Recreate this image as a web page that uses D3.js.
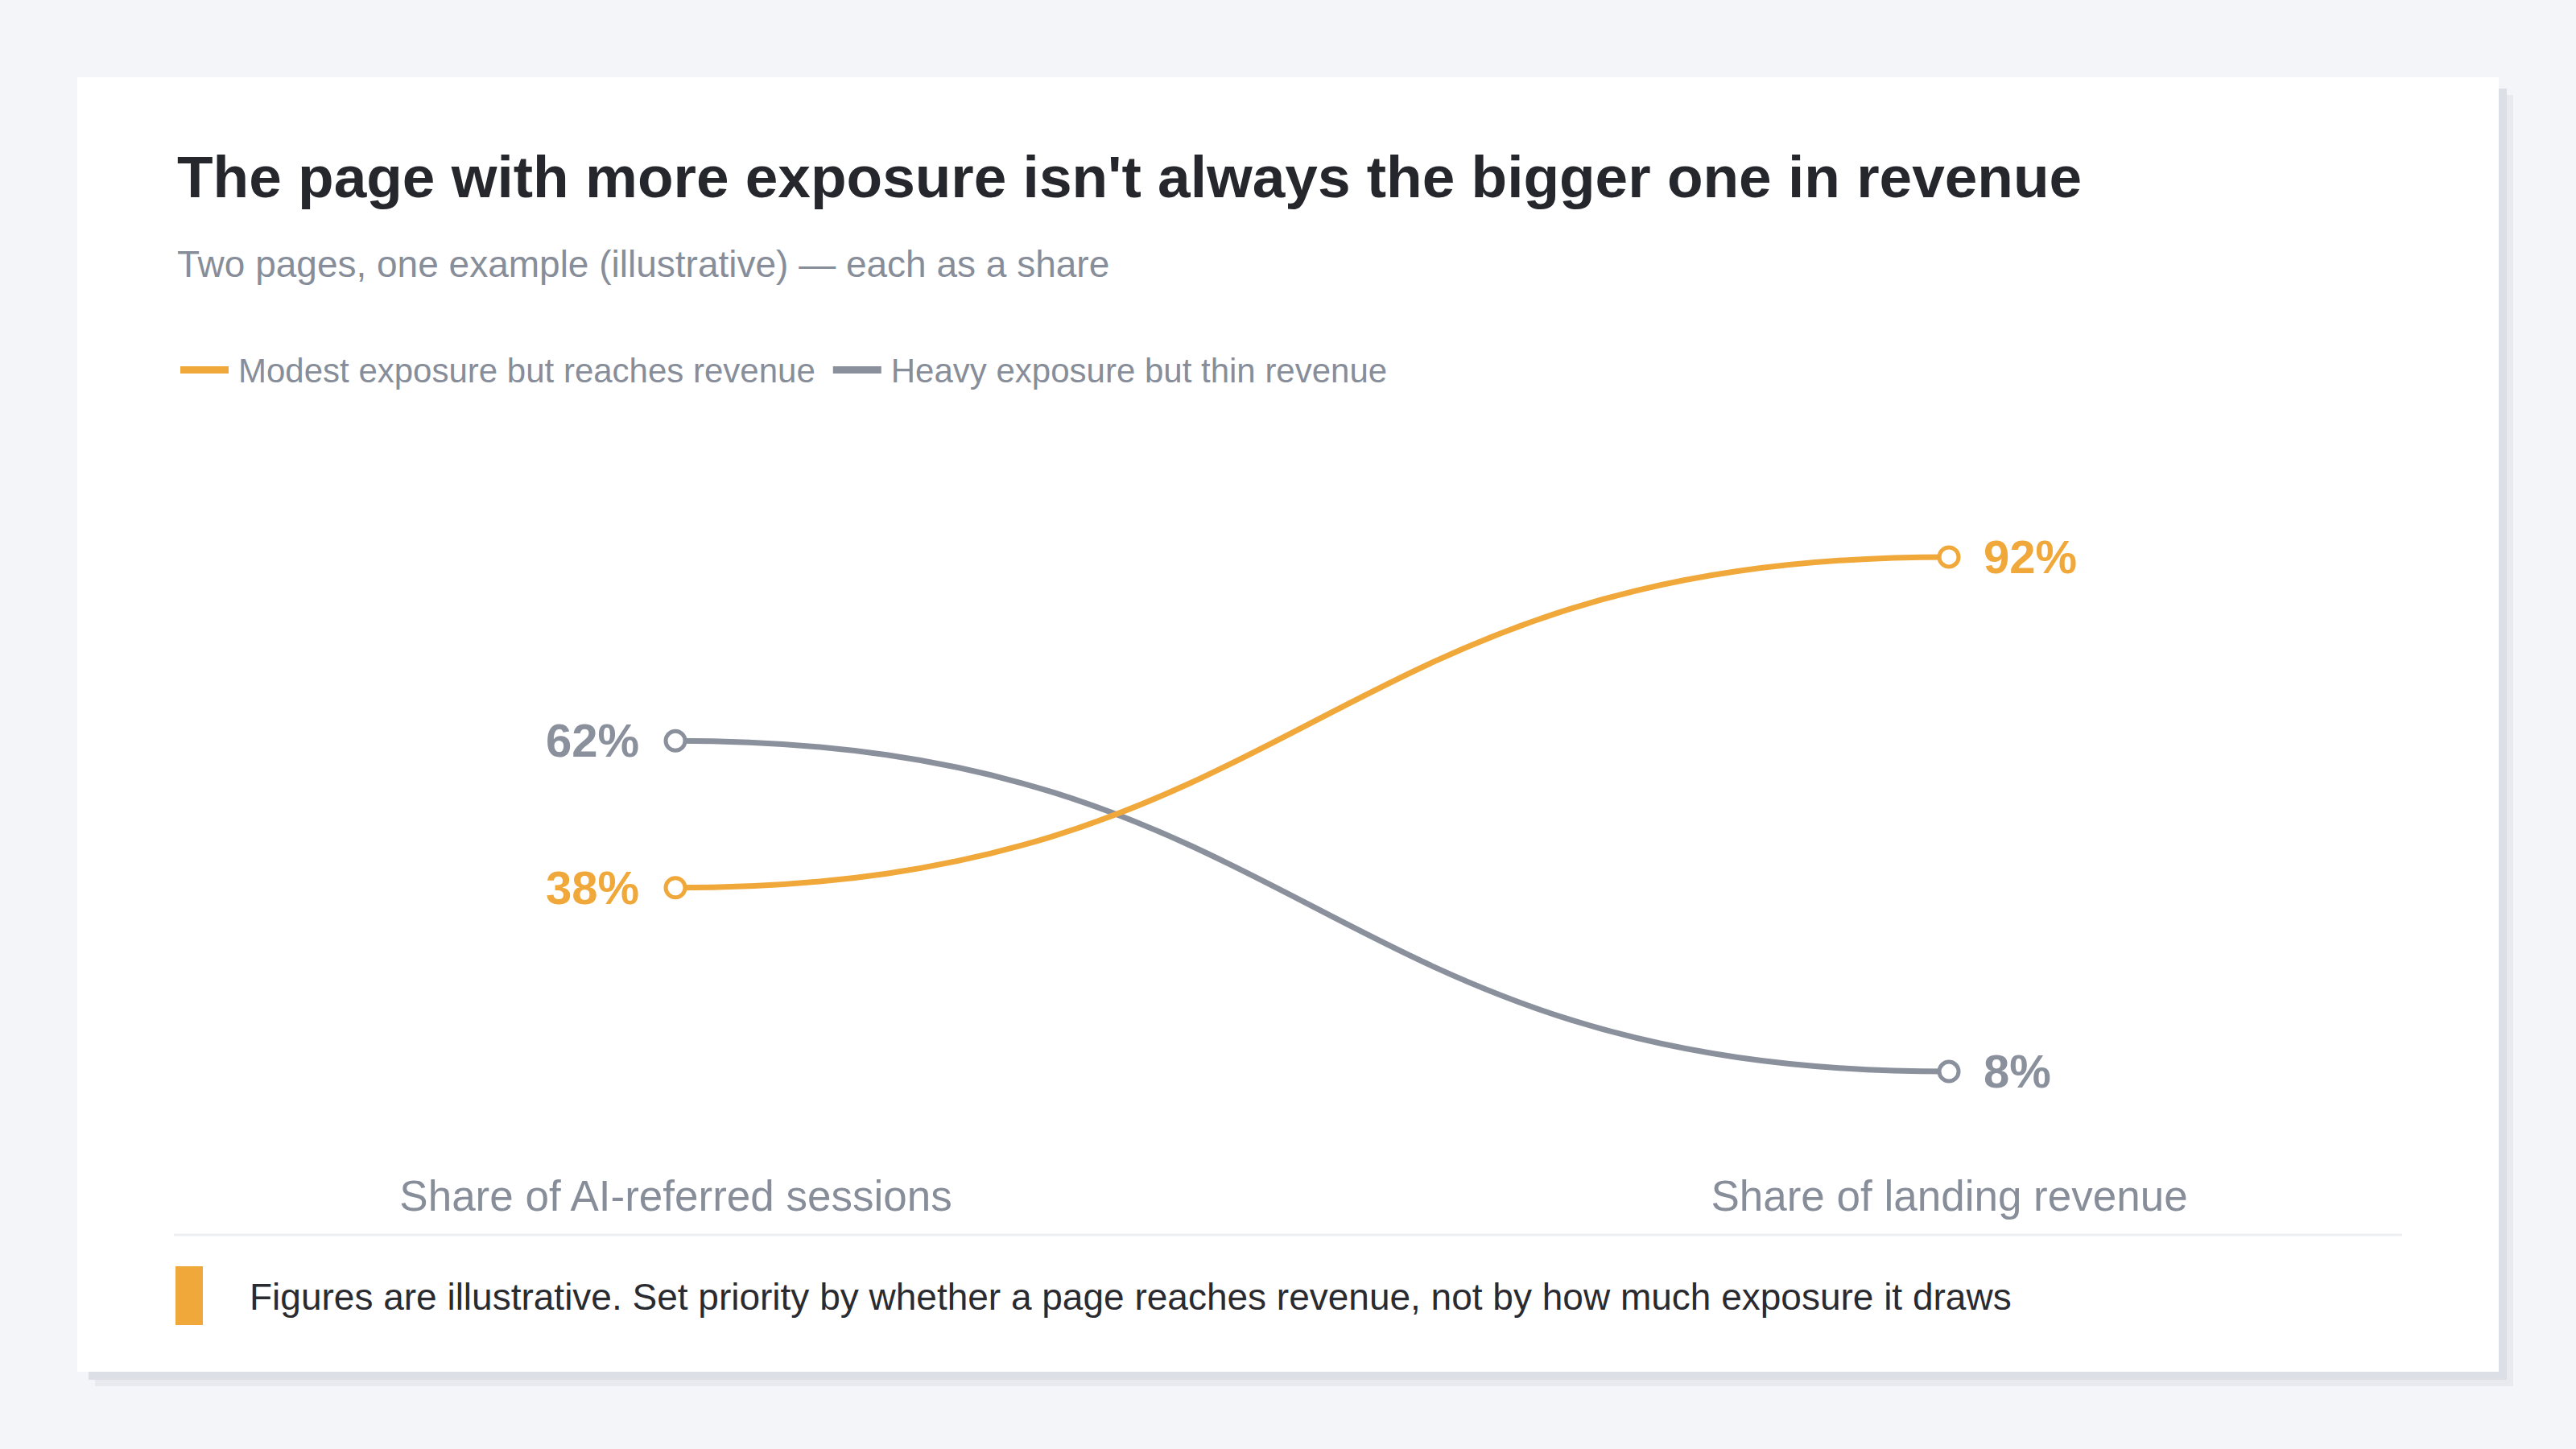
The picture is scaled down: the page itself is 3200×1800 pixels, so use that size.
<!DOCTYPE html>
<html><head><meta charset="utf-8">
<script src="https://cdn.jsdelivr.net/npm/d3@7"></script>
<style>html,body{margin:0;padding:0;background:#f4f5f8;}svg{display:block;font-family:"Liberation Sans",Arial,Helvetica,sans-serif;}</style>
</head><body>
<script>
const stages = ["Share of AI-referred sessions", "Share of landing revenue"];
const seriesNames = ["Modest exposure but reaches revenue", "Heavy exposure but thin revenue"];
const seriesColors = ["#f0a83a", "#8a909c"];
const modestValues = [38, 92];
const heavyValues = [62, 8];
const series = [
  {name: seriesNames[0], color: seriesColors[0], values: modestValues},
  {name: seriesNames[1], color: seriesColors[1], values: heavyValues}
];
const title = "The page with more exposure isn't always the bigger one in revenue";
const subtitle = "Two pages, one example (illustrative) \u2014 each as a share";
const footnote = "Figures are illustrative. Set priority by whether a page reaches revenue, not by how much exposure it draws";

const W = 3200, H = 1800;
const svg = d3.select("body").append("svg").attr("width", W).attr("height", H);
svg.append("rect").attr("width", W).attr("height", H).attr("fill", "#f4f5f8");
// card shadow + card
svg.append("rect").attr("x", 118).attr("y", 118).attr("width", 3004).attr("height", 1604).attr("fill", "#e9eaef");
svg.append("rect").attr("x", 110).attr("y", 110).attr("width", 3004).attr("height", 1604).attr("fill", "#dcdfe6");
svg.append("rect").attr("x", 96).attr("y", 96).attr("width", 3008).attr("height", 1608).attr("fill", "#ffffff");

svg.append("text").attr("x", 220).attr("y", 245).attr("font-size", 73).attr("font-weight", "bold").attr("fill", "#26272d").text(title);
svg.append("text").attr("x", 220).attr("y", 344).attr("font-size", 46).attr("fill", "#878e9a").text(subtitle);

// legend
const leg = svg.append("g");
let lx = 224;
series.forEach(s => {
  leg.append("rect").attr("x", lx).attr("y", 455).attr("width", 60).attr("height", 9).attr("fill", s.color);
  const t = leg.append("text").attr("x", lx + 72).attr("y", 475).attr("font-size", 42).attr("fill", "#878e9a").text(s.name);
  lx += 72 + t.node().getComputedTextLength() + 22;
});

const x = d3.scalePoint().domain(stages).range([839, 2421]);
const y = d3.scaleLinear().domain([0, 100]).range([1392, 631]);

const line = d3.line().x((d, i) => x(stages[i])).y(d => y(d)).curve(d3.curveBumpX);
series.slice().reverse().forEach(s => {
  svg.append("path").attr("d", line(s.values)).attr("fill", "none").attr("stroke", s.color).attr("stroke-width", 7);
});
series.forEach(s => {
  s.values.forEach((v, i) => {
    svg.append("circle").attr("cx", x(stages[i])).attr("cy", y(v)).attr("r", 12)
      .attr("fill", "#fff").attr("stroke", s.color).attr("stroke-width", 5);
    svg.append("text").attr("x", i === 0 ? x(stages[i]) - 45 : x(stages[i]) + 43).attr("y", y(v))
      .attr("dy", "0.35em").attr("text-anchor", i === 0 ? "end" : "start")
      .attr("font-size", 58).attr("font-weight", "bold").attr("fill", s.color).text(v + "%");
  });
});

// stage labels (axis)
const axis = d3.axisBottom(x).tickSize(0).tickPadding(0);
const ag = svg.append("g").attr("transform", "translate(0,1466)").call(axis);
ag.select(".domain").remove();
ag.selectAll("text").attr("font-size", 53).attr("fill", "#878e9a").attr("font-family", "Liberation Sans, Arial, sans-serif");

svg.append("line").attr("x1", 216).attr("x2", 2984).attr("y1", 1534).attr("y2", 1534).attr("stroke", "#eceef2").attr("stroke-width", 3);
svg.append("rect").attr("x", 218).attr("y", 1573).attr("width", 34).attr("height", 73).attr("fill", "#f0a83a");
svg.append("text").attr("x", 310).attr("y", 1627).attr("font-size", 46).attr("fill", "#2a2b30").text(footnote);
</script>
</body></html>
